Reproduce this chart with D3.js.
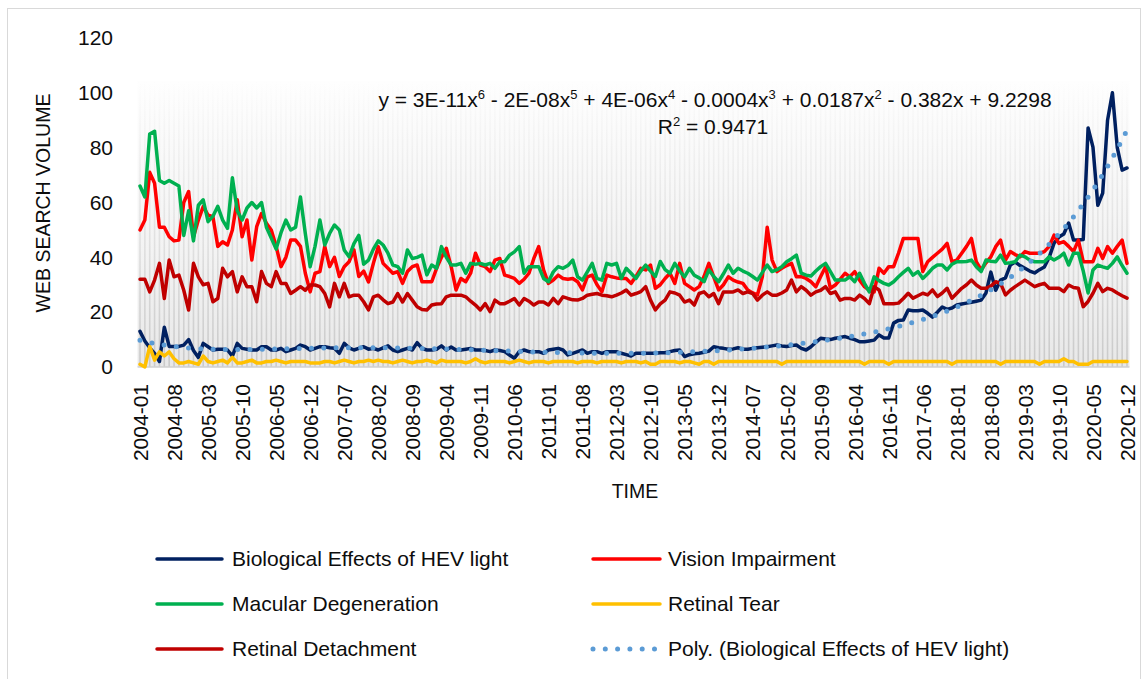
<!DOCTYPE html>
<html><head><meta charset="utf-8">
<script src="https://cdn.jsdelivr.net/npm/d3@7"></script>
<style>
body{margin:0;background:#fff}
svg{display:block}
text{font-family:"Liberation Sans",Arial,sans-serif;fill:#0d0d0d}
</style>
</head><body>
<svg id="chart" width="1147" height="679"></svg>
<script>
// ---------------- DATA ----------------
const years = [2004,2005,2006,2007,2008,2009,2010,2011,2012,2013,2014,2015,2016,2017,2018,2019,2020];
const monthNums = ["01","02","03","04","05","06","07","08","09","10","11","12"];
const categories = years.flatMap(y => monthNums.map(m => y + "-" + m));
const tickLabels = ["2004-01","2004-08","2005-03","2005-10","2006-05","2006-12","2007-07","2008-02","2008-09","2009-04",
  "2009-11","2010-06","2011-01","2011-08","2012-03","2012-10","2013-05","2013-12","2014-07","2015-02",
  "2015-09","2016-04","2016-11","2017-06","2018-01","2018-08","2019-03","2019-10","2020-05","2020-12"];
const yTicks = [0,20,40,60,80,100,120];

const hevLight = [
  13,9.5,7,5,2,14.5,7.5,7.5,7.5,8,10,6,
  3.5,8.6,7.4,6.2,6.5,6.5,6.2,4,8.6,6.8,6.5,6.2,
  6.2,7.4,7.4,6.2,6.2,6.8,5.6,6.2,6.8,8,7.4,6.2,
  6.8,7.4,7.4,7,6.8,5,8.6,7,6.2,6.8,7.4,6.5,
  6.8,6.2,7,7.7,6.2,5.6,6.2,6.8,6.2,8.9,6.8,6.2,
  6.2,6.5,7.7,6.2,7.3,6.2,6.2,6.5,6.8,6.2,6.2,6,
  5.6,6.2,6,5.6,4.4,3.2,5.6,6.2,5.6,5.6,5.6,5,
  6.2,6.5,6.8,6.2,4.4,5,5.6,6.2,5,5.6,5.6,5,
  5.6,5.6,5.6,5,4.5,4,5,5,5,5,5,5.2,
  5.2,5.6,6,6.2,3.8,4.5,4.8,5,5.4,5.8,7.4,7,
  6.8,6.5,6.6,7,6.5,6.5,6.8,7,7.2,7.4,7.7,8,
  7.7,7.5,7.8,8,6.8,6.2,7.4,9,10.5,10.2,10,10.5,
  10.8,11.1,10.5,10,9.2,9.2,9.5,9.8,11.7,10.6,10.6,16,
  17,17.1,20.8,20.5,20.5,20.8,19.6,18.2,20,21.9,21,21.5,
  22.6,23,23.3,23.6,24,24.4,27,34.6,28,31.7,32.5,37.2,
  38.3,37,36,35,34.3,35.5,36.5,40,45.2,47.4,48.5,52.5,
  46.3,46.3,46.5,87.2,80.2,59,63.4,90,100,80,71.8,72.6
];
const visionImpairment = [
  50,53.6,71,67,51,51,47.5,46,46.3,60,64,47.5,
  53.6,58.5,55.4,54.8,44,45.7,44.5,50,61,47.5,53.6,39,
  51.2,56,52.4,50,44,36.6,40,46.3,46.3,44,34.2,27.4,
  34.2,34.8,44,36.6,40,33,36.6,38.4,42.7,33,35,31,
  37.8,43.9,37.8,36,34.2,34.8,30.5,34.8,36.6,37.2,31.1,31.1,
  31.1,36,40,43.3,36.6,28.1,32.3,31.1,34.2,41.5,37.2,36.6,
  34.8,39,39.6,33.5,33,32.3,30.5,32,34.2,39.6,43.9,35.4,
  30.5,31.7,33.5,32.3,32,32.3,31.1,28.1,32.9,33.5,30,27.4,
  33.5,32.9,32.5,32.3,32.3,30.5,33,36,35.4,37.2,28.7,30,
  32.3,34.2,30.5,37.8,30.5,29.3,28.1,29.3,33,37.8,32.9,28.1,
  30,32.9,31.7,31,30.5,28.1,27,26.3,32.9,51,39,34.8,
  36,37,37.8,32.9,33,32.3,31.1,29.3,33,36.6,28.7,29.9,
  32,34.2,32.9,34.8,31.7,29.3,28,27.4,36,34.2,36.6,36.6,
  41.5,46.9,46.9,46.9,46.9,34.8,38.4,40,41.5,43,45.1,38.4,
  39,41.5,44,46.9,38.4,35.4,38,40.2,43.9,46.3,39,42.1,
  41,40.2,42.1,41.5,41.5,41.5,42.1,44,48.1,45.1,45.7,44,
  42.1,46.3,38.4,38.4,38.4,43.3,39.6,43.9,41.5,44,46.3,37.8
];
const macularDegeneration = [
  66,62,85,86,68,67,68,67,66,48,57,46,
  59,61,53,55,58.6,53.6,50.6,69,57,53.6,58,60,
  58,60,51,47,43,49,53.6,50,51,62,48.7,36.6,
  44,53.6,44.5,48.7,51.8,50,42.7,40.2,45,48,37.5,39,
  43,46,44.5,41.5,37.2,36.6,34.2,42.7,39.6,40,40.8,33.6,
  37.2,36,43.9,40,37.2,37.2,37.8,34.2,37.8,37.5,37.8,37.2,
  37.8,36,38.4,38.4,40.8,42,43.9,34.2,36.6,36.6,36.6,32.3,
  31.1,34.7,36.6,36,37,39,32.9,31.7,34.7,37.8,32.3,31.7,
  37.8,37.2,37.8,32.3,36,34.2,32.3,35,37.2,35,33,38.5,
  35.5,34.2,37.8,35,32.9,36,33.5,32.5,31.1,35.4,33,31.1,
  34,37.2,34.2,36,35,34.2,33,31.7,34.5,37.2,34.8,35.5,
  36.6,38.4,39.5,40.8,34.2,33.5,33.2,35,36.6,37.8,34.8,31.7,
  31.7,31.7,32.9,31.1,34.2,30.5,27.4,32.9,31.5,30.5,29.9,31.1,
  32.9,34.5,36,33.5,34.8,32.3,34,36,37.2,37.2,35.4,37.5,
  38.4,38.4,38.5,39,36.6,34.8,39,38.6,38.4,40.8,37.8,38,
  38.4,40.8,40.2,39,38.4,38.4,38.4,40.2,39,40,41.5,37.2,
  41.5,41.5,35,27,35.4,37.2,36.5,36,37.8,40.2,37,34.2
];
const retinalTear = [
  1,0,7.5,2.5,5.5,4,5.5,3,1.5,1.5,2,1.5,
  1,4,2,1.5,2,2.5,1.5,3.5,1.5,1.5,2,2.5,
  1.5,1.5,2,2,2.5,2,1.5,2,2,2,2,1.5,
  1.5,1.5,2,2,1.5,2,2.5,2,1.5,2,2,2.5,
  2,2.5,2,2,1.5,2,2.5,2,1.5,2,2,2.5,
  2,1.5,2.5,2,2,2,2,1.5,2,3,2,1.5,
  2,2,2,2,1.5,2,2.5,2,1.5,2,2,2,
  1.5,2,2,2,2,2,1.5,2,2,2,1.5,2,
  2,2,2,1.5,2,2,2,1.5,2,1,1,2,
  2,2,2,1.5,2,2,1.5,1,2,2,1,2,
  2,2,2,2,2,2,2,2,2,2,2,2,
  1,2,2,2,2,2,2,2,2,2,2,2,
  2,2,2,2,2,1,2,2,2,2,1,2,
  2,2,2,2,2,2,2,2,2,2,2,1,
  2,2,2,2,2,2,2,2,2,1,2,2,
  2,2,2,2,2,1,2,2,2,2,3,2,
  2,1,1,1,2,2,2,2,2,2,2,2
];
const retinalDetachment = [
  32,32,27.4,31.7,37.8,25,39,32.9,33.5,28,20.8,37.8,
  32.9,30,30.5,23.8,25,36,32.9,34.8,27.4,32.9,29.3,29.3,
  23.8,34.8,30.5,29.3,34.8,30.5,30.5,26.8,28,29.3,28,29.9,
  29.9,29.3,26.8,21.9,30.5,25.6,30.5,25.6,26.2,26.2,23.8,20.8,
  25.6,26.2,24.5,23.1,23.7,26.8,23.7,26.8,24.4,22,21,20.8,
  22.6,23,23.1,25.6,26.2,26.2,26.2,25.6,24,22.6,20.8,23.1,
  20.2,24.4,23.1,23.1,24,25,22.6,25,24,22.6,23.7,23.7,
  22.6,25,23.1,25.6,25,24.5,24.4,25,26.2,26.5,26.8,26.2,
  26,25.6,26.2,27,28.1,26.2,26.8,27.5,29.3,24.4,20.8,23,
  24.4,27.4,27,26.2,23.7,24.4,22.6,26.8,27.4,25.6,26.8,23.1,
  27.4,27.4,27.4,28.1,26.8,27.4,26.8,24.4,26.2,27.4,26.2,26.2,
  27,28.1,31.7,27.4,29.3,28,26.2,27.4,28,29.3,26.8,27.4,
  24.4,25,25,24.4,26.2,25,23.1,29.3,28.1,23.1,23.1,23.1,
  23.3,25,26.9,25.1,26,26.9,26.3,28.1,25.7,27,28.7,25.1,
  26.9,28.7,30,31.7,29.9,28.7,28.7,29.5,31.1,30.5,26.3,28,
  29.3,30.5,31.7,30.5,29.3,30,30.5,28.7,28.7,28.7,27.5,29.9,
  29,28.7,22,23.9,26.9,30.5,27.5,28.7,28.1,27,26,25.1
];

const seriesNames = ["Biological Effects of HEV light","Vision Impairment","Macular Degeneration","Retinal Tear","Retinal Detachment"];
const seriesValues = [hevLight, visionImpairment, macularDegeneration, retinalTear, retinalDetachment];
const trendName = "Poly. (Biological Effects of HEV light)";

// ---------------- STYLE ----------------
const colors = ["#002060","#ff0000","#00b050","#ffc000","#c00000"];
const trendColor = "#5b9bd5";
const FONT = '"Liberation Sans",Arial,sans-serif';

// ---------------- POLY FIT (like Excel trendline, order 6) ----------------
function polyFit(xs, ys, deg) {
  const n = deg + 1;
  const mean = d3.mean(xs), half = (d3.max(xs) - d3.min(xs)) / 2;
  const A = Array.from({length: n}, () => new Array(n + 1).fill(0));
  xs.forEach((x, k) => {
    const t = (x - mean) / half;
    const p = [1];
    for (let j = 1; j < 2 * n - 1; j++) p.push(p[j - 1] * t);
    for (let r = 0; r < n; r++) {
      for (let c = 0; c < n; c++) A[r][c] += p[r + c];
      A[r][n] += p[r] * ys[k];
    }
  });
  for (let i = 0; i < n; i++) {
    let m = i;
    for (let r = i + 1; r < n; r++) if (Math.abs(A[r][i]) > Math.abs(A[m][i])) m = r;
    [A[i], A[m]] = [A[m], A[i]];
    for (let r = i + 1; r < n; r++) {
      const f = A[r][i] / A[i][i];
      for (let c = i; c <= n; c++) A[r][c] -= f * A[i][c];
    }
  }
  const coef = new Array(n).fill(0);
  for (let i = n - 1; i >= 0; i--) {
    let s = A[i][n];
    for (let c = i + 1; c < n; c++) s -= A[i][c] * coef[c];
    coef[i] = s / A[i][i];
  }
  return x => { const t = (x - mean) / half; let v = 0; for (let j = n - 1; j >= 0; j--) v = v * t + coef[j]; return v; };
}
const xsNum = hevLight.map((d, i) => i + 1);
const trendFn = polyFit(xsNum, hevLight, 6);
const trendValues = xsNum.map(trendFn);

// ---------------- CHART ----------------
const svg = d3.select("#chart");
const x = d3.scalePoint().domain(categories).range([140, 1127]);
const step = x.step();
const y = d3.scaleLinear().domain([0, 120]).range([367, 38]);

// chart border
svg.append("rect").attr("x", 7.5).attr("y", 8.5).attr("width", 1133).attr("height", 690)
  .attr("fill", "none").attr("stroke", "#d9d9d9").attr("stroke-width", 1);

const defs = svg.append("defs");
const bgTop = y(104.3), bgBot = y(0);
const bgGrad = defs.append("linearGradient").attr("id", "bgGrad")
  .attr("gradientUnits", "userSpaceOnUse").attr("x1", 0).attr("x2", 0).attr("y1", bgTop).attr("y2", bgBot);
bgGrad.append("stop").attr("offset", "0%").attr("stop-color", "#fefefe");
bgGrad.append("stop").attr("offset", "60%").attr("stop-color", "#f3f3f3");
bgGrad.append("stop").attr("offset", "100%").attr("stop-color", "#e8e8e8");
const stGrad = defs.append("linearGradient").attr("id", "stGrad")
  .attr("gradientUnits", "userSpaceOnUse").attr("x1", 0).attr("x2", 0).attr("y1", bgTop).attr("y2", bgBot);
stGrad.append("stop").attr("offset", "0%").attr("stop-color", "#d8d8d8").attr("stop-opacity", 0.0);
stGrad.append("stop").attr("offset", "35%").attr("stop-color", "#d4d4d4").attr("stop-opacity", 0.35);
stGrad.append("stop").attr("offset", "100%").attr("stop-color", "#c8c8c8").attr("stop-opacity", 0.95);

svg.append("rect")
  .attr("x", x(categories[0]) - step / 2).attr("y", bgTop)
  .attr("width", x(categories[categories.length - 1]) - x(categories[0]) + step)
  .attr("height", bgBot - bgTop).attr("fill", "url(#bgGrad)");

svg.append("g").selectAll("line").data(categories).join("line")
  .attr("x1", d => x(d)).attr("x2", d => x(d))
  .attr("y1", bgTop).attr("y2", bgBot)
  .attr("stroke", "url(#stGrad)").attr("stroke-width", 1.6);

// axis line at 0
svg.append("line").attr("x1", x(categories[0]) - step / 2).attr("x2", x(categories[categories.length - 1]) + step / 2)
  .attr("y1", y(0)).attr("y2", y(0)).attr("stroke", "#d0d0d0").attr("stroke-width", 1.5);

// y axis
const yAxis = svg.append("g").attr("transform", "translate(121,0)")
  .call(d3.axisLeft(y).tickValues(yTicks).tickSize(0).tickPadding(8));
yAxis.select(".domain").remove();
yAxis.selectAll("text").style("font-size", "21px").style("font-family", FONT).attr("fill", "#0d0d0d");

// x axis labels
const xAxis = svg.append("g").attr("transform", `translate(0,${y(0)})`)
  .call(d3.axisBottom(x).tickValues(tickLabels).tickSize(0));
xAxis.select(".domain").remove();
xAxis.selectAll("text")
  .attr("transform", "rotate(-90)")
  .attr("x", -17).attr("y", 0).attr("dy", "0.35em")
  .attr("text-anchor", "end")
  .style("font-size", "21px").style("font-family", FONT).attr("fill", "#0d0d0d");

// axis titles
svg.append("text").attr("transform", "translate(43,203) rotate(-90)")
  .attr("text-anchor", "middle").attr("dy", "0.35em").style("font-size", "19.5px").text("WEB SEARCH VOLUME");
svg.append("text").attr("x", 635).attr("y", 491).attr("text-anchor", "middle").attr("dy", "0.35em")
  .style("font-size", "19.5px").text("TIME");

// series lines
const line = d3.line().x((d, i) => x(categories[i])).y(d => y(d));
const gLines = svg.append("g");
seriesValues.forEach((vals, k) => {
  gLines.append("path").datum(vals).attr("d", line)
    .attr("fill", "none").attr("stroke", colors[k]).attr("stroke-width", 3.5)
    .attr("stroke-linejoin", "round").attr("stroke-linecap", "round");
});
// trendline
gLines.append("path").datum(trendValues).attr("d", line)
  .attr("fill", "none").attr("stroke", trendColor).attr("stroke-width", 5)
  .attr("stroke-linecap", "round").attr("stroke-dasharray", "0 12.3");

// equation
const eq = svg.append("text").attr("x", 715).attr("y", 107).attr("text-anchor", "middle")
  .style("font-size", "21px").style("white-space", "pre");
const eqParts = [["y = 3E-11x", 0], ["6", 1], [" - 2E-08x", 0], ["5", 1], [" + 4E-06x", 0], ["4", 1],
  [" - 0.0004x", 0], ["3", 1], [" + 0.0187x", 0], ["2", 1], [" - 0.382x + 9.2298", 0]];
let prevSup = false;
eqParts.forEach(([t, sup]) => {
  const ts = eq.append("tspan").text(t);
  if (sup) { ts.attr("dy", -8).style("font-size", "13px"); prevSup = true; }
  else if (prevSup) { ts.attr("dy", 8); prevSup = false; }
});
const r2 = svg.append("text").attr("x", 713).attr("y", 134).attr("text-anchor", "middle")
  .style("font-size", "21px").style("white-space", "pre");
r2.append("tspan").text("R");
r2.append("tspan").text("2").attr("dy", -8).style("font-size", "13px");
r2.append("tspan").text(" = 0.9471").attr("dy", 8);

// legend
const legendItems = seriesNames.map((n, k) => ({name: n, color: colors[k], trend: false}))
  .concat([{name: trendName, color: trendColor, trend: true}]);
const legRows = [559, 604, 649];
const legCols = [{x1: 157, x2: 222, tx: 232}, {x1: 593, x2: 660, tx: 668}];
const gLeg = svg.append("g");
legendItems.forEach((it, k) => {
  const col = legCols[k % 2], ry = legRows[Math.floor(k / 2)];
  const ln = gLeg.append("line").attr("x1", col.x1).attr("x2", col.x2).attr("y1", ry).attr("y2", ry)
    .attr("stroke", it.color).attr("stroke-linecap", "round");
  if (it.trend) ln.attr("stroke-width", 5).attr("stroke-dasharray", "0 12.3");
  else ln.attr("stroke-width", 3.5);
  gLeg.append("text").attr("x", col.tx).attr("y", ry).attr("dy", "0.35em")
    .style("font-size", "21px").text(it.name);
});
</script>
</body></html>
